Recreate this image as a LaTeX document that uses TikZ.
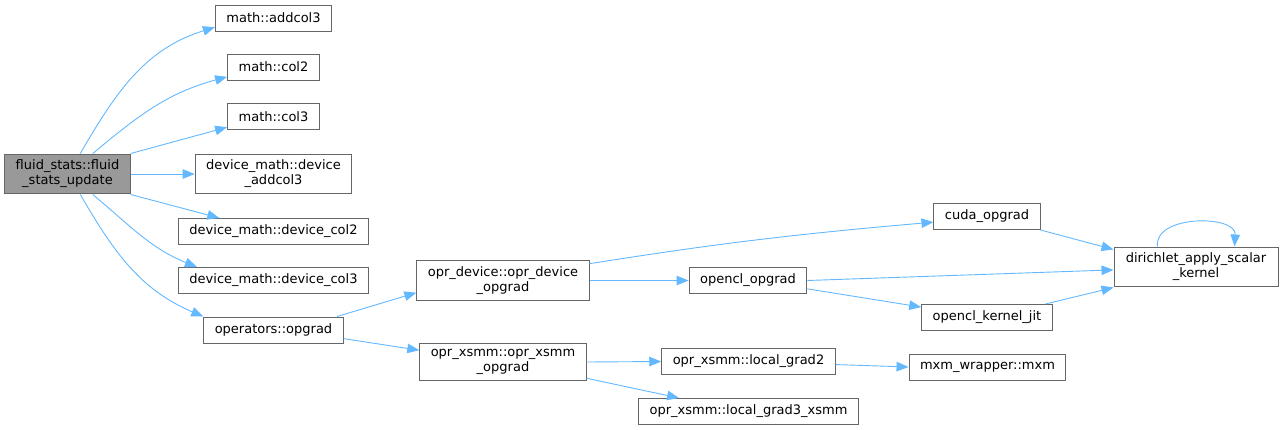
\documentclass[tikz,border=0pt]{standalone}
\usepackage{fontspec}
\setmainfont{DejaVu Sans}
\usepackage{xcolor}
\usetikzlibrary{arrows.meta,positioning}
\definecolor{edgeblue}{HTML}{63B8FF}
\definecolor{boxline}{HTML}{666666}
\definecolor{rootfill}{HTML}{999999}

\begin{document}
\begin{tikzpicture}[
  x=1pt,y=-1pt,
  every node/.style={font=\fontsize{13}{15}\selectfont,align=center},
  fn/.style={draw=boxline,line width=1pt,fill=white,inner xsep=11pt,inner ysep=6pt,
    minimum height=26pt},
  root/.style={fn,fill=rootfill},
  call/.style={-{Triangle[length=12pt,width=9.5pt]},edgeblue,line width=0.9pt}
]
\useasboundingbox (0,0) rectangle (1284,429);
\node[root] (upd) at (67.5,174) {fluid\_stats::fluid\\\_stats\_update};
\node[fn] (addc) at (273.5,18) {math::addcol3};
\node[fn] (colb) at (273.5,67) {math::col2};
\node[fn] (colc) at (273.5,116.5) {math::col3};
\node[fn] (daddc) at (273.5,174) {device\_math::device\\\_addcol3};
\node[fn] (dcolb) at (273.5,231.5) {device\_math::device\_col2};
\node[fn] (dcolc) at (273.5,280.5) {device\_math::device\_col3};
\node[fn] (opg) at (273.5,330) {operators::opgrad};
\node[fn] (odev) at (503,280.5) {opr\_device::opr\_device\\\_opgrad};
\node[fn] (oxs) at (503,362) {opr\_xsmm::opr\_xsmm\\\_opgrad};
\node[fn] (cuda) at (987,216.5) {cuda\_opgrad};
\node[fn] (ocl) at (748,280.5) {opencl\_opgrad};
\node[fn] (lgb) at (748.5,361.5) {opr\_xsmm::local\_grad2};
\node[fn] (lgc) at (748.5,411.5) {opr\_xsmm::local\_grad3\_xsmm};
\node[fn,minimum width=164pt] (dir) at (1196,267) {dirichlet\_apply\_scalar\\\_kernel};
\node[fn] (jit) at (987,317.5) {opencl\_kernel\_jit};
\node[fn] (mxm) at (987.5,367) {mxm\_wrapper::mxm};
\draw[call] (upd.58) to[out=60,in=197] (addc.189);
\draw[call] (upd.39) to[out=40,in=195] (colb.192);
\draw[call] (upd.18) -- (colc.193);
\draw[call] (upd.east) -- (daddc.west);
\draw[call] (upd.-18) -- (dcolb.166);
\draw[call] (upd.-39) to[out=-40,in=158] (dcolc.170);
\draw[call] (upd.-58) to[out=-60,in=157] (opg.north west);
\draw[call] (opg.12) -- (odev.188);
\draw[call] (opg.-7) -- (oxs.172);
\draw[call] (odev.11) to[out=9,in=185] (cuda.186);
\draw[call] (odev.east) -- (ocl.west);
\draw[call] (ocl.east) -- (dir.182);
\draw[call] (ocl.-8) -- (jit.171);
\draw[call] (cuda.south east) -- (dir.168);
\draw[call] (jit.13) -- (dir.south west);
\draw[call] (dir.152) .. controls +(-4,-32) and +(2,-32) .. (dir.28);
\draw[call] (oxs.east) -- (lgb.west);
\draw[call] (oxs.-11) -- (lgc.169);
\draw[call] (lgb.-2) -- (mxm.west);
\end{tikzpicture}
\end{document}
